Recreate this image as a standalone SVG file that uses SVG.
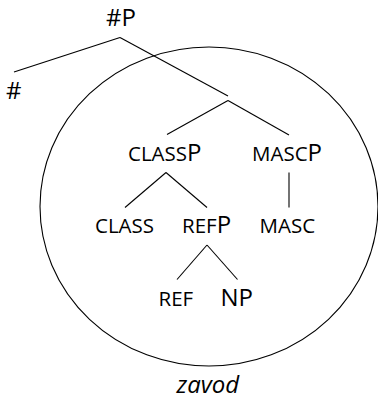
<svg xmlns="http://www.w3.org/2000/svg" width="378" height="399" viewBox="0 0 378 399">
<style>
text{font-family:"Open Sans","Noto Sans",sans-serif;fill:#000}
.sc{font-size:20.5px}
.p{font-size:24px}
.it{font-size:24px;font-style:italic}
line,ellipse{stroke:#000;stroke-width:1.1;fill:none}
</style>
<rect width="378" height="399" fill="#fff"/>
<ellipse id="domain" cx="209" cy="206.5" rx="169" ry="159.5"/>
<g id="connectors">
<line x1="120" y1="37.5" x2="14" y2="72"/>
<line x1="120" y1="37.5" x2="228" y2="96"/>
<line x1="228" y1="100.5" x2="167" y2="134.5"/>
<line x1="228" y1="100.5" x2="289" y2="135"/>
<line x1="166" y1="172.5" x2="125" y2="207.5"/>
<line x1="166" y1="172.5" x2="207" y2="207.5"/>
<line x1="289" y1="172.5" x2="289" y2="207.5"/>
<line x1="207" y1="245" x2="177" y2="279.5"/>
<line x1="207" y1="245" x2="237.5" y2="279.5"/>
</g>
<g id="hashP"><text class="p" x="106" y="26">#P</text></g>
<g id="hash"><text class="p" x="6" y="99">#</text></g>
<g id="classP"><text class="sc" x="128" y="161">CLASS<tspan class="p">P</tspan></text></g>
<g id="mascP"><text class="sc" x="252" y="161">MASC<tspan class="p">P</tspan></text></g>
<g id="class"><text class="sc" x="95" y="233">CLASS</text></g>
<g id="refP"><text class="sc" x="182" y="232.5">REF<tspan class="p">P</tspan></text></g>
<g id="masc"><text class="sc" x="259.5" y="232.5">MASC</text></g>
<g id="ref"><text class="sc" x="158.5" y="305.5">REF</text></g>
<g id="np"><text class="p" x="220.5" y="305.5">NP</text></g>
<g id="zavod"><text class="it" x="176.5" y="393">zavod</text></g>
</svg>
